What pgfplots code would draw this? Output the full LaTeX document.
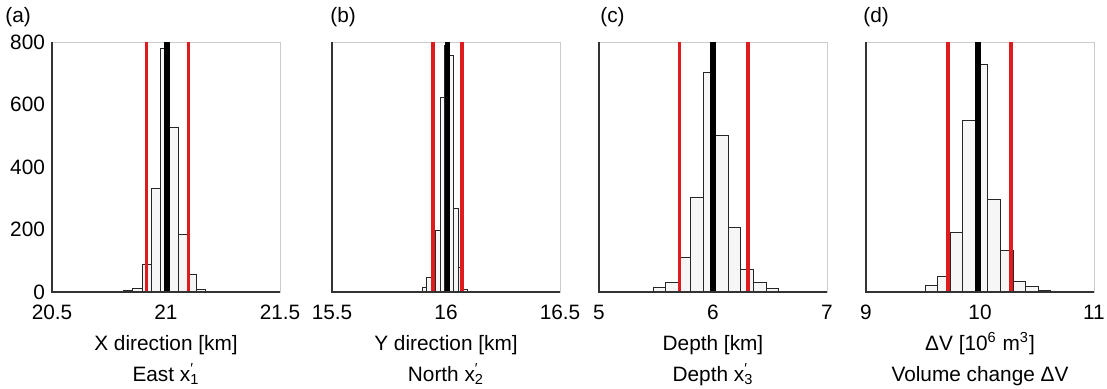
\documentclass[border=0pt]{standalone}
\usepackage{fontspec}
\setmainfont{Liberation Sans}
\setsansfont{Liberation Sans}
\usepackage{pgfplots}
\pgfplotsset{compat=1.18}
\definecolor{cired}{RGB}{222,28,30}
\newcommand{\lbl}{\fontsize{10.4}{12}\selectfont}
\pgfplotsset{
  hist/.style={
    scale only axis, width=114pt, height=125pt,
    anchor=south west,
    ymin=0, ymax=800, ytick={0,200,400,600,800},
    tick style={draw=none},
    axis line style={gray!40, line width=0.4pt},
    /pgf/number format/assume math mode=true,
    ticklabel style={font=\lbl},
    xticklabel style={yshift=-3pt},
    clip=true,
  },
  bars/.style={ybar interval, draw=black!85, fill=gray!7, line width=0.5pt},
  meanline/.style={black, line width=2.7pt},
  ciline/.style={cired, line width=1.8pt},
}
\begin{document}
\begin{tikzpicture}
% (a)
\begin{axis}[hist, at={(26pt,48pt)}, xmin=20.5, xmax=21.5, xtick={20.5,21,21.5}]
\addplot[bars] coordinates {(20.815,4) (20.855,10) (20.895,87) (20.935,331) (20.975,779) (21.015,528) (21.055,183) (21.095,57) (21.135,8) (21.175,3) (21.215,0)};
\addplot[ciline] coordinates {(20.914,0) (20.914,800)};
\addplot[ciline] coordinates {(21.098,0) (21.098,800)};
\addplot[meanline] coordinates {(21.005,0) (21.005,800)};
\end{axis}
% (b)
\begin{axis}[hist, at={(166pt,48pt)}, xmin=15.5, xmax=16.5, xtick={15.5,16,16.5}, yticklabels={}]
\addplot[bars] coordinates {(15.875,3) (15.895,14) (15.915,48) (15.935,110) (15.955,197) (15.975,624) (15.995,790) (16.015,757) (16.035,267) (16.055,80) (16.075,8) (16.095,3) (16.115,0)};
\addplot[ciline] coordinates {(15.944,0) (15.944,800)};
\addplot[ciline] coordinates {(16.071,0) (16.071,800)};
\addplot[meanline] coordinates {(16.006,0) (16.006,800)};
\end{axis}
% (c)
\begin{axis}[hist, at={(299.5pt,48pt)}, xmin=5, xmax=7, xtick={5,6,7}, yticklabels={}]
\addplot[bars] coordinates {(5.475,14) (5.585,32) (5.695,112) (5.805,302) (5.915,704) (6.025,501) (6.135,208) (6.245,71) (6.355,32) (6.465,11) (6.575,0)};
\addplot[ciline] coordinates {(5.705,0) (5.705,800)};
\addplot[ciline] coordinates {(6.307,0) (6.307,800)};
\addplot[meanline, line width=3.2pt] coordinates {(6.0,0) (6.0,800)};
\end{axis}
% (d)
\begin{axis}[hist, at={(433pt,48pt)}, xmin=9, xmax=11, xtick={9,10,11}, yticklabels={}]
\addplot[bars] coordinates {(9.52,21) (9.63,49) (9.74,190) (9.85,550) (9.96,729) (10.07,297) (10.18,134) (10.29,35) (10.40,17) (10.51,6) (10.62,0)};
\addplot[ciline] coordinates {(9.717,0) (9.717,800)};
\addplot[ciline] coordinates {(10.27,0) (10.27,800)};
\addplot[meanline] coordinates {(9.982,0) (9.982,800)};
\end{axis}
% frames (left and bottom darker)
\foreach \x in {26,166,299.5,433}{
  \draw[black!80, line width=0.6pt] (\x pt,173pt) -- (\x pt,48pt) -- ++(114pt,0pt);
}
% panel labels
\node[anchor=base west, inner sep=0pt, font=\lbl] at (2.5pt,183pt) {(a)};
\node[anchor=base west, inner sep=0pt, font=\lbl] at (165pt,183pt) {(b)};
\node[anchor=base west, inner sep=0pt, font=\lbl] at (300pt,183pt) {(c)};
\node[anchor=base west, inner sep=0pt, font=\lbl] at (431.5pt,183pt) {(d)};
% axis titles
\node[anchor=base, inner sep=0pt, font=\lbl] at (83pt,19pt) {X direction [km]};
\node[anchor=base, inner sep=0pt, font=\lbl] at (83pt,3.5pt) {East x\rlap{\textsuperscript{′}}\textsubscript{1}};
\node[anchor=base, inner sep=0pt, font=\lbl] at (223pt,19pt) {Y direction [km]};
\node[anchor=base, inner sep=0pt, font=\lbl] at (223pt,3.5pt) {North x\rlap{\textsuperscript{′}}\textsubscript{2}};
\node[anchor=base, inner sep=0pt, font=\lbl] at (356.5pt,19pt) {Depth [km]};
\node[anchor=base, inner sep=0pt, font=\lbl] at (356.5pt,3.5pt) {Depth x\rlap{\textsuperscript{′}}\textsubscript{3}};
\node[anchor=base, inner sep=0pt, font=\lbl] at (490pt,19pt) {ΔV [10\textsuperscript{6} m\textsuperscript{3}]};
\node[anchor=base, inner sep=0pt, font=\lbl] at (490pt,3.5pt) {Volume change ΔV};
\pgfresetboundingbox
\path (0,0) rectangle (553.5pt,194pt);
\end{tikzpicture}
\end{document}
